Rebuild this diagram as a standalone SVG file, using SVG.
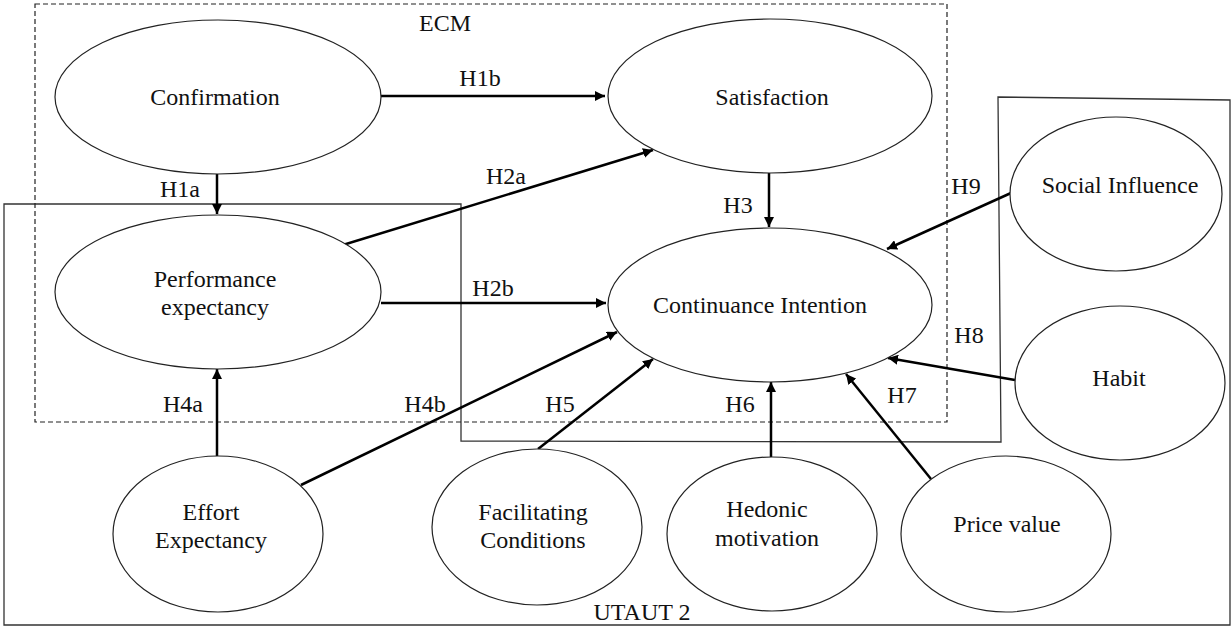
<svg xmlns="http://www.w3.org/2000/svg" width="1231" height="627" viewBox="0 0 1231 627">
<defs>
<marker id="arr" viewBox="0 0 10 10" refX="10" refY="5" markerWidth="4" markerHeight="4" markerUnits="strokeWidth" orient="auto">
<path d="M0,0 L10,5 L0,10 Z" fill="#000"/>
</marker>
<style>
text{font-family:'Liberation Serif','Times New Roman','DejaVu Serif',serif;font-size:24px;fill:#111;text-anchor:middle}
.node ellipse{fill:#fff;stroke:#222;stroke-width:1.2}
.conn line{stroke:#000;stroke-width:2.5;marker-end:url(#arr)}
.frame{fill:none;stroke:#333;stroke-width:1.3}
.dash{fill:none;stroke:#222;stroke-width:1.2;stroke-dasharray:5,3}
</style>
</defs>
<rect x="0" y="0" width="1231" height="627" fill="#fff"/>
<g font-family="Liberation Serif, Times New Roman, serif">
<g id="utaut2-frame">
<path class="frame" d="M4,204 L461,204 L461,441 L1001,442 L998,97 L1230,100 L1230,625 L4,625 Z"/>
<text x="642" y="620">UTAUT 2</text>
</g>
<g id="ecm-frame">
<rect class="dash" x="35" y="4" width="912" height="418"/>
<text x="445" y="31">ECM</text>
</g>
<g id="connectors" class="conn">
<line x1="381" y1="96" x2="605" y2="96"/>
<line x1="217" y1="174" x2="217" y2="214"/>
<line x1="333" y1="248" x2="653" y2="150"/>
<line x1="769" y1="173" x2="769" y2="227"/>
<line x1="381" y1="303" x2="606" y2="303"/>
<line x1="1011" y1="193" x2="887" y2="249"/>
<line x1="1015" y1="380" x2="888" y2="358"/>
<line x1="217" y1="456" x2="217" y2="369"/>
<line x1="301" y1="485" x2="617" y2="332"/>
<line x1="538" y1="449" x2="653" y2="359"/>
<line x1="771" y1="457" x2="771" y2="382"/>
<line x1="931" y1="479" x2="846" y2="374"/>
</g>
<g id="labels">
<text x="480" y="86">H1b</text>
<text x="180" y="197">H1a</text>
<text x="506" y="184">H2a</text>
<text x="738" y="213">H3</text>
<text x="493" y="296">H2b</text>
<text x="966" y="194">H9</text>
<text x="969" y="343">H8</text>
<text x="183" y="412">H4a</text>
<text x="425" y="412">H4b</text>
<text x="560" y="412">H5</text>
<text x="740" y="412">H6</text>
<text x="902" y="403">H7</text>
</g>
<g id="confirmation" class="node">
<ellipse cx="218" cy="97" rx="163" ry="77"/>
<text x="215" y="105">Confirmation</text>
</g>
<g id="satisfaction" class="node">
<ellipse cx="770" cy="96" rx="162" ry="77"/>
<text x="772" y="105">Satisfaction</text>
</g>
<g id="performance-expectancy" class="node">
<ellipse cx="218" cy="292" rx="163" ry="77"/>
<text x="215" y="287">Performance</text>
<text x="215" y="315">expectancy</text>
</g>
<g id="continuance-intention" class="node">
<ellipse cx="770" cy="305" rx="162" ry="77"/>
<text x="760" y="313">Continuance Intention</text>
</g>
<g id="social-influence" class="node">
<ellipse cx="1116" cy="194" rx="106" ry="77"/>
<text x="1120" y="193">Social Influence</text>
</g>
<g id="habit" class="node">
<ellipse cx="1120" cy="383" rx="105" ry="77"/>
<text x="1119" y="386">Habit</text>
</g>
<g id="effort-expectancy" class="node">
<ellipse cx="218" cy="534" rx="105" ry="78"/>
<text x="211" y="520">Effort</text>
<text x="211" y="548">Expectancy</text>
</g>
<g id="facilitating-conditions" class="node">
<ellipse cx="537" cy="527" rx="105" ry="78"/>
<text x="533" y="520">Facilitating</text>
<text x="533" y="548">Conditions</text>
</g>
<g id="hedonic-motivation" class="node">
<ellipse cx="772" cy="534" rx="105" ry="77"/>
<text x="767" y="517">Hedonic</text>
<text x="767" y="546">motivation</text>
</g>
<g id="price-value" class="node">
<ellipse cx="1006" cy="534" rx="105" ry="78"/>
<text x="1007" y="532">Price value</text>
</g>
</g>
</svg>
